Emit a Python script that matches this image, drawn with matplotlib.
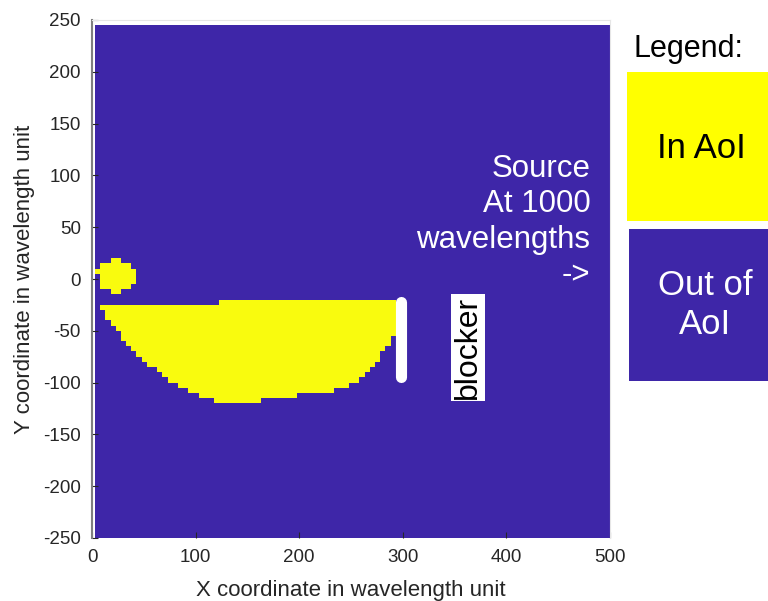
import numpy as np
import matplotlib
matplotlib.use("Agg")
import matplotlib.pyplot as plt
from matplotlib.colors import ListedColormap
from matplotlib.patches import Rectangle

plt.rcParams["font.family"] = ["Liberation Sans", "DejaVu Sans"]
plt.rcParams["axes.unicode_minus"] = False

# AoI map, cells are 5 wavelengths wide (centres)
x_centres = np.arange(5, 505, 5)
y_centres = np.arange(-247.5, 245, 5)

# small blob near the origin: lower edge of each row, left / right edge of the yellow run
blob_rows = [15, 10, 5, 0, -5, -10, -15]
blob_left = [17.5, 7.5, 2.5, 7.5, 7.5, 7.5, 17.5]
blob_right = [27.5, 37.5, 42.5, 42.5, 42.5, 37.5, 27.5]

# big bowl in front of the blocker
bowl_rows = [-25, -30, -35, -40, -45, -50, -55, -60, -65, -70,
             -75, -80, -85, -90, -95, -100, -105, -110, -115, -120]
bowl_left = [122.5, 7.5, 12.5, 12.5, 17.5, 22.5, 27.5, 27.5, 32.5, 37.5,
             42.5, 47.5, 52.5, 62.5, 67.5, 72.5, 82.5, 92.5, 102.5, 117.5]
bowl_right = [292.5, 292.5, 292.5, 292.5, 292.5, 292.5, 292.5, 287.5, 287.5, 282.5,
              277.5, 277.5, 272.5, 267.5, 262.5, 257.5, 247.5, 232.5, 197.5, 162.5]

blocker_x = 298
blocker_y = [-22.5, -95]

source_lines = ["Source", "At 1000", "wavelengths", "->"]

BLUE = "#3e26a8"
YELLOW = "#f9fb0e"

aoi = np.zeros((len(y_centres), len(x_centres)))
for rows, lefts, rights in [(blob_rows, blob_left, blob_right),
                            (bowl_rows, bowl_left, bowl_right)]:
    for y0, xl, xr in zip(rows, lefts, rights):
        in_row = (y_centres > y0) & (y_centres < y0 + 5)
        in_run = (x_centres > xl) & (x_centres < xr)
        aoi[np.ix_(in_row, in_run)] = 1

fig = plt.figure(figsize=(7.68, 6.01), dpi=100)
ax = fig.add_axes([92 / 768, 63 / 601, 518 / 768, 518 / 601])

ax.imshow(aoi, cmap=ListedColormap([BLUE, YELLOW]), origin="lower",
          extent=[2.5, 502.5, -250, 245], interpolation="nearest",
          aspect="auto", zorder=0)
ax.set_xlim(0, 500)
ax.set_ylim(-250, 250)

# blocker bar and its label
ax.plot([blocker_x, blocker_x], blocker_y, color="white", lw=8,
        solid_capstyle="round", zorder=3)
ax.text(363, -66, "blocker", rotation=90, ha="center", va="center",
        fontsize=23, color="black",
        bbox=dict(facecolor="white", edgecolor="none", pad=1.2))

ax.text(481, 55, "\n".join(source_lines), ha="right", va="center",
        multialignment="right", fontsize=22.5, color="white", linespacing=1.24)

ax.set_xticks(np.arange(0, 501, 100))
ax.set_yticks(np.arange(-250, 251, 50))
ax.tick_params(axis="both", direction="in", labelsize=13.5, labelcolor="#262626",
               color="#262626", length=4)
ax.tick_params(axis="x", pad=8)
ax.tick_params(axis="y", pad=8)
for side in ["top", "right"]:
    ax.spines[side].set_color("#e6e6e6")
ax.spines["left"].set_color("#808080")
ax.spines["left"].set_linewidth(1.5)
ax.spines["bottom"].set_visible(False)

ax.set_xlabel("X coordinate in wavelength unit", fontsize=16, color="#262626", labelpad=10)
ax.set_ylabel("Y coordinate in wavelength unit", fontsize=16, color="#262626", labelpad=6)

# hand-made legend on the right
fig.text(688 / 768, 1 - 49 / 601, "Legend:", ha="center", va="center",
         fontsize=22, color="black")
fig.patches.append(Rectangle((627 / 768, 1 - 221 / 601), 141 / 768, 149 / 601,
                             transform=fig.transFigure, facecolor="#ffff00",
                             edgecolor="none"))
fig.text(701 / 768, 1 - 148 / 601, "In AoI", ha="center", va="center",
         fontsize=25, color="black")
fig.patches.append(Rectangle((629 / 768, 1 - 381 / 601), 139 / 768, 152 / 601,
                             transform=fig.transFigure, facecolor=BLUE,
                             edgecolor="none"))
fig.text(705 / 768, 1 - 305 / 601, "Out of\nAoI", ha="center", va="center",
         fontsize=25, color="white", linespacing=1.25)

fig.savefig("out.png", dpi=100)
